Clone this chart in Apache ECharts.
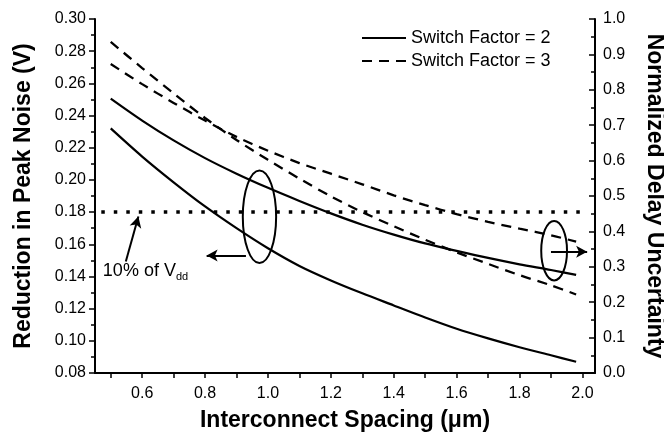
<!DOCTYPE html>
<html>
<head>
<meta charset="utf-8">
<script src="https://cdn.jsdelivr.net/npm/echarts@6/dist/echarts.min.js"></script>
<style>
html,body{margin:0;padding:0;background:#fff;}
#chart{width:664px;height:433px;}
</style>
</head>
<body>
<div id="chart"></div>
<script>
// ---- data ----
const spacing = [0.5, 0.6, 0.7, 0.8, 0.9, 1.0, 1.1, 1.2, 1.3, 1.4, 1.5, 1.6, 1.7, 1.8, 1.9, 1.98];
// Reduction in peak noise (V), left axis
const noiseSF2 = [0.232, 0.2145, 0.1985, 0.1835, 0.170, 0.1575, 0.1465, 0.1375, 0.1295, 0.122, 0.1145, 0.1075, 0.1015, 0.096, 0.091, 0.087];
const noiseSF3 = [0.2858, 0.2695, 0.2538, 0.2385, 0.2248, 0.2125, 0.2008, 0.1898, 0.180, 0.1712, 0.1628, 0.155, 0.1478, 0.1408, 0.1345, 0.1288];
// Normalized delay uncertainty, right axis
const delaySF2 = [0.775, 0.713, 0.657, 0.607, 0.563, 0.523, 0.486, 0.451, 0.419, 0.391, 0.366, 0.345, 0.325, 0.307, 0.291, 0.277];
const delaySF3 = [0.873, 0.816, 0.763, 0.713, 0.667, 0.628, 0.593, 0.563, 0.533, 0.502, 0.474, 0.449, 0.427, 0.408, 0.389, 0.371];
// 10% of Vdd level
const vddLevel = 0.18;
const vddSpan = [0.47, 2.0];
// tick labels
const xLabels = [0.6, 0.8, 1.0, 1.2, 1.4, 1.6, 1.8, 2.0];
const xTicks = [0.5, 0.6, 0.7, 0.8, 0.9, 1.0, 1.1, 1.2, 1.3, 1.4, 1.5, 1.6, 1.7, 1.8, 1.9, 2.0];
const seriesNames = ['Switch Factor = 2', 'Switch Factor = 3'];
// annotations (data units, left axis)
const ellipseNoise = [0.973, 0.1771, 0.053, 0.0288];
const ellipseDelay = [1.910, 0.156, 0.041, 0.0185];
const arrowNoise = [[0.93, 0.153], [0.805, 0.153]];
const arrowDelay = [[1.90, 0.1553], [2.015, 0.1553]];
const arrowVdd = [[0.548, 0.1493], [0.588, 0.1773]];
const vddTextPos = [0.475, 0.1432];

const FONT = 'Liberation Sans';
const pair = (xs, ys) => xs.map((x, i) => [x, ys[i]]);

const chart = echarts.init(document.getElementById('chart'), null, {renderer: 'canvas'});
const solid = {color: '#000', width: 2.2, type: 'solid'};
const dashed = {color: '#000', width: 2.3, type: [10, 7]};

const option = {
  animation: false,
  backgroundColor: '#fff',
  textStyle: {fontFamily: FONT, color: '#000'},
  grid: {left: 95, right: 69, top: 19, bottom: 60, containLabel: false, outerBoundsMode: 'none'},
  legend: {
    data: seriesNames,
    orient: 'vertical',
    left: 356, top: 24,
    itemWidth: 44, itemHeight: 14, itemGap: 5,
    itemStyle: {opacity: 0},
    textStyle: {fontSize: 18, fontFamily: FONT, color: '#000'}
  },
  xAxis: {
    type: 'value', min: 0.45, max: 2.04,
    name: 'Interconnect Spacing (\u03bcm)', nameLocation: 'middle', nameGap: 36,
    nameTextStyle: {fontSize: 23, fontWeight: 'bold', fontFamily: FONT, color: '#000'},
    axisLine: {show: true, lineStyle: {color: '#000', width: 2}},
    axisTick: {show: true, length: 5, lineStyle: {color: '#000', width: 1.5}, customValues: xTicks},
    axisLabel: {fontSize: 16, color: '#000', margin: 13, customValues: xLabels, formatter: v => v.toFixed(1)},
    splitLine: {show: false}
  },
  yAxis: [{
    type: 'value', min: 0.08, max: 0.30, interval: 0.02, position: 'left',
    name: 'Reduction in Peak Noise (V)', nameLocation: 'middle', nameGap: 60, nameRotate: 90,
    nameTextStyle: {fontSize: 23, fontWeight: 'bold', fontFamily: FONT, color: '#000'},
    axisLine: {show: true, lineStyle: {color: '#000', width: 2}},
    axisTick: {show: true, length: 6, lineStyle: {color: '#000', width: 1.5}},
    minorTick: {show: true, splitNumber: 2, length: 4, lineStyle: {color: '#000', width: 1.5}},
    axisLabel: {fontSize: 16, color: '#000', margin: 9, formatter: v => v.toFixed(2)},
    splitLine: {show: false}
  }, {
    type: 'value', min: 0, max: 1.0, interval: 0.1, position: 'right',
    name: 'Normalized Delay Uncertainty', nameLocation: 'middle', nameGap: 48, nameRotate: -90,
    nameTextStyle: {fontSize: 23, fontWeight: 'bold', fontFamily: FONT, color: '#000'},
    axisLine: {show: true, lineStyle: {color: '#000', width: 2}},
    axisTick: {show: true, inside: true, length: 6, lineStyle: {color: '#000', width: 1.5}},
    minorTick: {show: true, splitNumber: 2, length: 4, lineStyle: {color: '#000', width: 1.5}},
    axisLabel: {fontSize: 16, color: '#000', margin: 8, formatter: v => v.toFixed(1)},
    splitLine: {show: false}
  }],
  series: [
    {name: seriesNames[0], type: 'line', yAxisIndex: 0, data: pair(spacing, noiseSF2), symbol: 'none', smooth: 0.3, lineStyle: solid, itemStyle: {color: '#000'}},
    {name: seriesNames[1], type: 'line', yAxisIndex: 0, data: pair(spacing, noiseSF3), symbol: 'none', smooth: 0.3, lineStyle: dashed, itemStyle: {color: '#000'}},
    {name: seriesNames[0], type: 'line', yAxisIndex: 1, data: pair(spacing, delaySF2), symbol: 'none', smooth: 0.3, lineStyle: solid, itemStyle: {color: '#000'}},
    {name: seriesNames[1], type: 'line', yAxisIndex: 1, data: pair(spacing, delaySF3), symbol: 'none', smooth: 0.3, lineStyle: dashed, itemStyle: {color: '#000'}},
    {
      name: 'vdd', type: 'line', yAxisIndex: 0, symbol: 'none', silent: true,
      data: vddSpan.map(x => [x, vddLevel]),
      lineStyle: {color: '#000', width: 3.5, type: [3.5, 9], cap: 'butt'},
      markLine: {
        silent: true, symbol: ['none', 'arrow'], symbolSize: [9, 11], animation: false,
        label: {show: false},
        lineStyle: {color: '#000', width: 2, type: 'solid'},
        data: [arrowNoise, arrowDelay, arrowVdd].map(a => [{coord: a[0]}, {coord: a[1]}])
      }
    },
    {
      name: 'ellipses', type: 'custom', yAxisIndex: 0, silent: true,
      data: [ellipseNoise, ellipseDelay],
      encode: {x: 0, y: 1},
      renderItem: function (params, api) {
        const c = api.coord([api.value(0), api.value(1)]);
        const s = api.size([api.value(2), api.value(3)]);
        return {type: 'ellipse', shape: {cx: c[0], cy: c[1], rx: s[0], ry: s[1]},
          style: {fill: 'none', stroke: '#000', lineWidth: 2}};
      }
    },
    {
      name: 'vddText', type: 'custom', yAxisIndex: 0, silent: true,
      data: [vddTextPos],
      encode: {x: 0, y: 1},
      renderItem: function (params, api) {
        const c = api.coord([api.value(0), api.value(1)]);
        return {type: 'text', x: c[0], y: c[1],
          style: {
            text: '{a|10% of V}{b|dd}', align: 'left', verticalAlign: 'middle',
            rich: {
              a: {fontSize: 18, fontFamily: FONT, fill: '#000', lineHeight: 22},
              b: {fontSize: 11, fontFamily: FONT, fill: '#000', lineHeight: 8, verticalAlign: 'bottom'}
            }
          }};
      }
    }
  ]
};
chart.setOption(option);
</script>
</body>
</html>
